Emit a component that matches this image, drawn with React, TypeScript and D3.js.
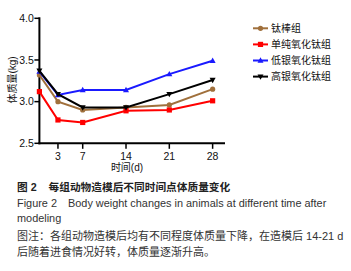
import React from "react";
import * as d3 from "d3";

const days = [0, 3, 7, 14, 21, 28];
const seriesNames = ["钛棒组", "单纯氧化钛组", "低银氧化钛组", "高银氧化钛组"];
const titaniumRod = [3.32, 3.0, 2.9, 2.93, 2.96, 3.15];
const pureTiO2 = [3.12, 2.78, 2.75, 2.89, 2.9, 3.01];
const lowAgTiO2 = [3.36, 3.08, 3.14, 3.14, 3.33, 3.49];
const highAgTiO2 = [3.37, 3.09, 2.93, 2.93, 3.09, 3.26];
const xTicks = [3, 7, 14, 21, 28];
const yTicks = [2.5, 3.0, 3.5, 4.0];
const colors = ["#a0703c", "#ff0000", "#1a1aff", "#000000"];
const markers = ["circle", "square", "triangleUp", "triangleDown"];
const noteLines = [
  "图注：各组动物造模后均有不同程度体质量下降，在造模后 14-21 d",
  "后随着进食情况好转，体质量逐渐升高。",
];

const allSeries = [titaniumRod, pureTiO2, lowAgTiO2, highAgTiO2];

function Marker({ type, x, y, color }: { type: string; x: number; y: number; color: string }) {
  if (type === "circle") return <circle cx={x} cy={y} r={2.6} fill={color} />;
  if (type === "square") return <rect x={x - 2.6} y={y - 2.6} width={5.2} height={5.2} fill={color} />;
  if (type === "triangleUp")
    return <path d={`M${x},${y - 3.2}L${x + 3},${y + 2.2}L${x - 3},${y + 2.2}Z`} fill={color} />;
  return <path d={`M${x},${y + 3.2}L${x + 3},${y - 2.2}L${x - 3},${y - 2.2}Z`} fill={color} />;
}

export default function App() {
  const x = d3.scaleLinear().domain([0, 30]).range([39.4, 225]);
  const y = d3.scaleLinear().domain([2.5, 4.0]).range([143.3, 18.3]);
  const line = d3
    .line<number>()
    .x((_, i) => x(days[i]))
    .y((d) => y(d));
  const axisFont = "Liberation Sans, Arial, sans-serif";
  const cjkFont = "'Liberation Sans', 'Noto Sans CJK SC', sans-serif";
  return (
    <svg
      width={351}
      height={271}
      style={{ position: "absolute", left: 0, top: 0, background: "#fff" }}
      fontFamily={axisFont}
    >
      {/* axes */}
      <line x1={x(0)} x2={x(0)} y1={y(4.0) - 1} y2={y(2.5) + 1} stroke="#000" strokeWidth={2} />
      <line x1={x(0) - 1} x2={x(30)} y1={y(2.5)} y2={y(2.5)} stroke="#000" strokeWidth={2} />
      {yTicks.map((t) => (
        <g key={t}>
          <line x1={x(0) - 5} x2={x(0)} y1={y(t)} y2={y(t)} stroke="#000" strokeWidth={1.5} />
          <text x={x(0) - 5.5} y={y(t) + 3.6} fontSize={10.5} textAnchor="end" fill="#111">
            {t.toFixed(1)}
          </text>
        </g>
      ))}
      {xTicks.map((t) => (
        <g key={t}>
          <line x1={x(t)} x2={x(t)} y1={y(2.5)} y2={y(2.5) + 5.5} stroke="#000" strokeWidth={1.5} />
          <text x={x(t)} y={y(2.5) + 16.5} fontSize={10.5} textAnchor="middle" fill="#111">
            {t}
          </text>
        </g>
      ))}
      <text x={127} y={170.5} fontSize={10} textAnchor="middle" fontFamily={cjkFont} fill="#111">
        时间(d)
      </text>
      <text
        transform={`translate(15.5,80) rotate(-90)`}
        fontSize={10}
        textAnchor="middle"
        fontFamily={cjkFont}
        fill="#111"
      >
        体质量(kg)
      </text>
      {/* series */}
      {allSeries.map((s, si) => (
        <g key={si}>
          <path d={line(s) || ""} fill="none" stroke={colors[si]} strokeWidth={2} />
          {s.map((v, i) => (
            <Marker key={i} type={markers[si]} x={x(days[i])} y={y(v)} color={colors[si]} />
          ))}
        </g>
      ))}
      {/* legend */}
      {seriesNames.map((n, i) => {
        const ly = 28.3 + i * 16.1;
        return (
          <g key={n}>
            <line x1={253} x2={268} y1={ly} y2={ly} stroke={colors[i]} strokeWidth={2} />
            <Marker type={markers[i]} x={260.5} y={ly} color={colors[i]} />
            <text x={271} y={ly + 3.6} fontSize={10} fontFamily={cjkFont} fill="#111">
              {n}
            </text>
          </g>
        );
      })}
      {/* caption */}
      <text x={17} y={191} fontSize={10.7} fontWeight="bold" fontFamily={cjkFont} fill="#222">
        图 2
      </text>
      <text x={48.5} y={191} fontSize={10.7} fontWeight="bold" fontFamily={cjkFont} fill="#222">
        每组动物造模后不同时间点体质量变化
      </text>
      <text x={17} y={206.7} fontSize={10.9} fontFamily={cjkFont} fill="#333">
        Figure 2
      </text>
      <text x={68} y={206.7} fontSize={10.9} fontFamily={cjkFont} fill="#333">
        Body weight changes in animals at different time after
      </text>
      <text x={17} y={222.3} fontSize={10.9} fontFamily={cjkFont} fill="#333">
        modeling
      </text>
      {noteLines.map((c, i) => (
        <text key={i} x={17} y={[240, 256.3][i]} fontSize={11} fontFamily={cjkFont} fill="#333">
          {c}
        </text>
      ))}
    </svg>
  );
}
